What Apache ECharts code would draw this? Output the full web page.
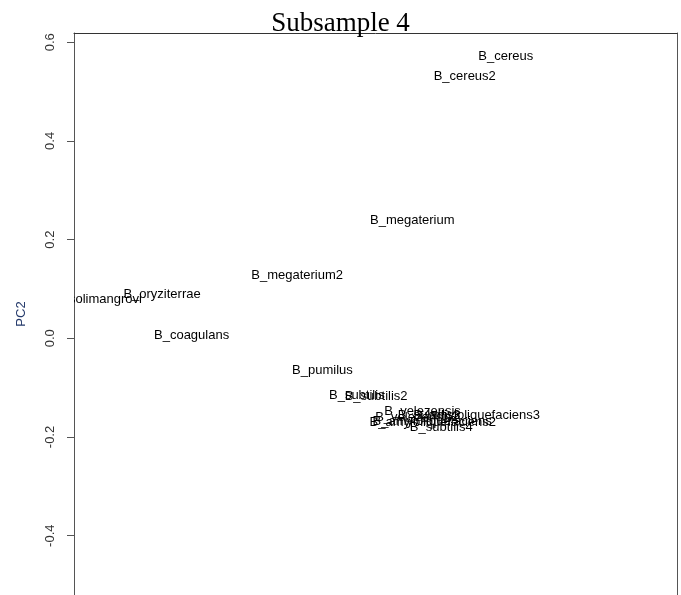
<!DOCTYPE html>
<html>
<head>
<meta charset="utf-8">
<script src="https://cdn.jsdelivr.net/npm/echarts@6/dist/echarts.min.js"></script>
<style>
  html, body { margin: 0; padding: 0; background: #fff; }
  #chart { width: 681px; height: 595px; }
</style>
</head>
<body>
<div id="chart"></div>
<script>
// Species labels and their principal component scores
const labels = [
  'B_cereus', 'B_cereus2', 'B_megaterium', 'B_megaterium2',
  'B_oryziterrae', 'B_solimangrovi', 'B_coagulans', 'B_pumilus',
  'B_subtilis', 'B_subtilis2', 'B_velezensis', 'B_velezensis2',
  'B_subtilis3', 'B_amyloliquefaciens3', 'B_amyloliquefaciens',
  'B_amyloliquefaciens2', 'B_subtilis4'
];
const pc1 = [
  0.316, 0.248, 0.161, -0.030,
  -0.254, -0.361, -0.205, 0.012,
  0.069, 0.101, 0.178, 0.169,
  0.189, 0.268, 0.194, 0.195, 0.209
];
const pc2 = [
  0.572, 0.530, 0.238, 0.128,
  0.088, 0.078, 0.005, -0.065,
  -0.115, -0.117, -0.149, -0.161,
  -0.157, -0.157, -0.168, -0.170, -0.180
];
const yTicks = [-0.4, -0.2, 0, 0.2, 0.4, 0.6];

// Visible window of the plot region (lower part runs past the page edge)
const yMin = -0.5202;
const yMax = 0.6187;

const points = labels.map((name, i) => [pc1[i], pc2[i], name]);

const chart = echarts.init(document.getElementById('chart'), null, { renderer: 'canvas' });
chart.setOption({
  animation: false,
  backgroundColor: '#fff',
  title: {
    text: 'Subsample 4',
    left: 'center',
    top: 5,
    textStyle: {
      fontFamily: '"Liberation Serif", "Times New Roman", serif',
      fontSize: 27,
      fontWeight: 'normal',
      color: '#000'
    }
  },
  grid: {
    left: 74,
    right: 4,
    top: 33,
    bottom: 0,
    show: false
  },
  xAxis: {
    type: 'value',
    min: -0.4,
    max: 0.6,
    position: 'top',
    axisLine: { show: true, onZero: false, lineStyle: { color: '#333', width: 1 } },
    axisTick: { show: false },
    axisLabel: { show: false },
    splitLine: { show: false }
  },
  yAxis: [{
    type: 'value',
    min: yMin,
    max: yMax,
    position: 'left',
    name: 'PC2',
    nameLocation: 'middle',
    nameRotate: 90,
    nameGap: 46,
    nameTextStyle: {
      fontFamily: '"Liberation Sans", Arial, sans-serif',
      fontSize: 13,
      color: '#253a6b'
    },
    axisLine: { show: true, onZero: false, lineStyle: { color: '#555', width: 1 } },
    axisTick: {
      show: true,
      length: 7,
      customValues: yTicks,
      lineStyle: { color: '#555' }
    },
    axisLabel: {
      rotate: 90,
      margin: 17,
      customValues: yTicks,
      fontFamily: '"Liberation Sans", Arial, sans-serif',
      fontSize: 13,
      color: '#333',
      formatter: v => v.toFixed(1)
    },
    splitLine: { show: false }
  }, {
    type: 'value',
    min: yMin,
    max: yMax,
    position: 'right',
    axisLine: { show: true, onZero: false, lineStyle: { color: '#555', width: 1 } },
    axisTick: { show: false },
    axisLabel: { show: false },
    splitLine: { show: false }
  }],
  series: [{
    type: 'custom',
    clip: true,
    xAxisIndex: 0,
    yAxisIndex: 0,
    data: points,
    renderItem: (params, api) => {
      const p = api.coord([api.value(0), api.value(1)]);
      return {
        type: 'text',
        x: p[0],
        y: p[1],
        style: {
          text: labels[params.dataIndex],
          fill: '#000',
          font: '13px "Liberation Sans", Arial, sans-serif',
          textAlign: 'center',
          textVerticalAlign: 'middle'
        }
      };
    }
  }]
});
</script>
</body>
</html>
